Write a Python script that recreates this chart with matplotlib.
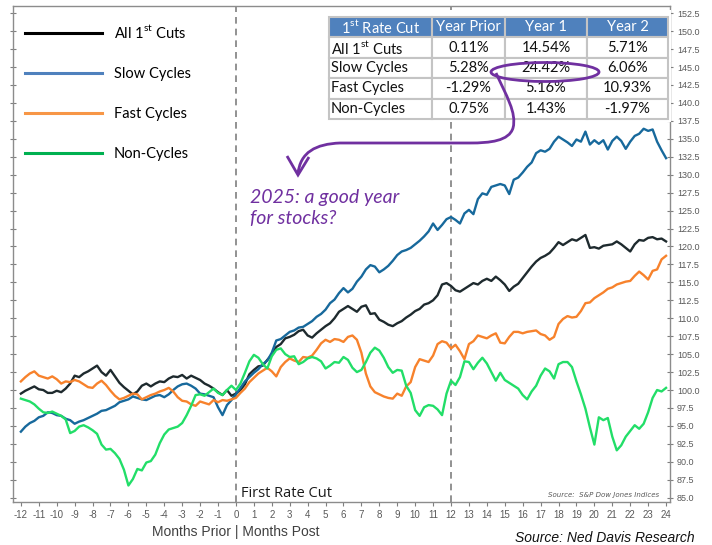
import numpy as np
import matplotlib
matplotlib.use("Agg")
import matplotlib.pyplot as plt
from matplotlib.lines import Line2D
from matplotlib.patches import Ellipse, PathPatch, Rectangle
from matplotlib.path import Path
from matplotlib.transforms import Affine2D

plt.rcParams['mathtext.fontset'] = 'custom'
plt.rcParams['mathtext.rm'] = 'Lato'

# months relative to the first rate cut, one reading every quarter month
months = np.arange(-12, 24.01, 0.25)

all_cuts = [
    99.5, 99.9, 100.2, 100.5, 100.1, 100.0, 99.6, 99.6, 99.9, 99.7, 100.2, 100.9,
    102.0, 101.8, 102.3, 102.6, 103.0, 103.4, 102.5, 102.0, 102.8, 101.9, 101.0, 100.4,
    99.9, 99.4, 99.8, 100.6, 100.9, 100.5, 100.9, 101.2, 101.1, 101.6, 101.9, 101.8,
    102.1, 101.6, 102.0, 101.7, 101.4, 100.9, 100.6, 100.2, 99.7, 99.3, 100.0, 99.2,
    99.5, 100.0, 100.8, 102.2, 102.8, 103.3, 103.4, 104.2, 104.9, 106.0, 106.4, 107.2,
    107.4, 107.7, 108.2, 108.4, 107.6, 107.3, 107.9, 108.4, 108.9, 109.3, 110.0, 110.9,
    111.3, 111.7, 111.3, 110.9, 111.6, 111.8, 110.6, 110.7, 109.8, 109.5, 109.1, 108.9,
    109.3, 109.6, 110.1, 110.5, 111.0, 111.3, 111.9, 112.1, 112.5, 113.2, 114.7, 114.9,
    114.5, 113.9, 113.7, 114.1, 114.5, 114.9, 114.7, 115.2, 115.5, 115.2, 115.8, 115.3,
    114.7, 113.8, 114.4, 114.8, 115.6, 116.4, 117.2, 117.9, 118.4, 118.7, 119.1, 119.8,
    120.6, 120.2, 120.6, 121.0, 120.8, 121.2, 121.6, 119.8, 119.9, 119.7, 120.1, 120.2,
    120.3, 120.7, 120.3, 119.8, 119.3, 120.3, 120.9, 120.8, 121.2, 121.3, 121.0, 121.1,
    120.7,
]

slow_cycles = [
    94.2, 94.9, 95.4, 95.7, 96.2, 96.4, 96.9, 96.8, 96.5, 96.4, 96.0, 95.8,
    95.3, 95.6, 95.8, 96.1, 96.4, 96.7, 97.1, 97.2, 97.5, 97.8, 98.3, 98.5,
    98.7, 99.1, 98.9, 98.7, 98.6, 98.9, 99.2, 99.3, 99.0, 99.4, 100.0, 100.5,
    100.8, 100.9, 100.6, 100.2, 99.5, 99.4, 99.2, 99.0, 97.6, 96.5, 97.9, 98.6,
    99.4, 100.3, 101.2, 101.8, 102.4, 102.9, 103.6, 104.1, 105.2, 106.9, 107.1, 107.6,
    108.1, 108.3, 108.7, 108.8, 109.2, 109.6, 110.2, 110.6, 111.2, 112.1, 112.6, 113.5,
    114.2, 113.6, 114.1, 115.1, 115.8, 116.8, 117.4, 117.2, 116.4, 116.8, 117.3, 118.0,
    118.8, 119.3, 119.5, 119.8, 120.3, 120.8, 121.4, 122.1, 123.2, 122.3, 123.0, 123.8,
    124.1, 123.7, 123.2, 124.6, 125.1, 124.5, 126.6, 127.4, 127.2, 128.3, 128.5, 128.7,
    128.5, 127.3, 129.3, 129.6, 130.3, 131.1, 131.7, 133.0, 133.4, 133.2, 133.6, 134.6,
    135.3, 134.9, 134.5, 134.0, 134.9, 134.6, 136.0, 134.2, 134.8, 134.3, 134.8, 133.5,
    134.7, 135.3, 134.7, 133.6, 134.6, 135.4, 135.7, 136.4, 136.1, 136.3, 134.6, 133.4,
    132.3,
]

fast_cycles = [
    101.2, 101.8, 102.3, 102.6, 102.0, 101.8, 101.6, 101.9, 101.5, 100.9, 101.2, 101.1,
    101.4, 101.2, 100.8, 100.4, 100.3, 100.9, 101.3, 100.7, 99.9, 99.2, 98.7, 98.9,
    99.2, 99.5, 99.4, 98.7, 99.0, 99.3, 99.5, 99.8, 100.0, 100.3, 99.8, 99.0,
    98.5, 98.4, 98.0, 97.8, 98.4, 98.2, 98.0, 98.6, 98.3, 98.6, 98.5, 98.7,
    98.9, 99.6, 100.2, 101.1, 101.7, 102.3, 102.7, 103.1, 102.6, 101.9, 103.2, 103.9,
    104.4, 104.1, 103.9, 104.6, 104.5, 104.8, 105.6, 106.5, 107.0, 106.7, 107.1, 107.0,
    106.7, 107.4, 107.6, 107.0, 105.2, 102.3, 100.5, 99.7, 99.4, 99.1, 98.9, 98.8,
    99.5, 99.2, 100.5, 101.1, 103.2, 104.3, 104.1, 103.9, 104.8, 106.4, 106.8, 106.6,
    105.8, 106.3, 105.4, 104.3, 106.4, 106.8, 107.6, 107.4, 107.2, 107.6, 107.9, 106.6,
    106.5, 107.4, 108.1, 108.1, 107.9, 108.1, 108.2, 108.3, 107.8, 107.6, 107.0, 107.4,
    109.2, 109.9, 110.3, 110.1, 110.2, 111.0, 112.1, 112.2, 112.8, 113.2, 113.6, 114.1,
    114.3, 114.7, 114.9, 115.1, 115.2, 115.9, 116.5, 116.0, 115.4, 116.6, 116.8, 118.2,
    118.7,
]

non_cycles = [
    98.8, 98.6, 98.4, 98.0, 97.4, 96.9, 96.8, 97.0, 96.7, 96.4, 95.9, 94.0,
    94.3, 94.9, 95.1, 94.8, 94.4, 93.9, 92.4, 91.7, 91.8, 91.2, 90.4, 88.9,
    86.7, 87.6, 89.0, 88.8, 89.9, 90.1, 91.0, 92.6, 93.8, 94.5, 94.7, 94.9,
    95.4, 96.5, 97.8, 99.3, 99.4, 99.2, 99.7, 100.2, 99.6, 99.3, 100.0, 100.6,
    100.0, 100.9, 102.4, 104.0, 104.9, 104.5, 103.6, 103.0, 104.7, 105.6, 105.8, 105.0,
    104.6, 104.7, 103.6, 103.9, 104.4, 104.6, 104.4, 104.0, 103.0, 103.4, 103.9, 103.8,
    104.6, 104.2, 103.1, 102.5, 102.8, 103.9, 105.2, 105.9, 105.5, 104.5, 103.2, 102.4,
    102.8, 102.7, 100.6, 99.6, 97.2, 96.4, 97.6, 97.9, 97.8, 97.3, 96.5, 99.5,
    101.3, 100.7, 101.8, 104.0, 103.9, 102.9, 103.8, 104.5, 103.7, 102.5, 101.3, 102.4,
    101.4, 101.0, 100.6, 100.2, 99.3, 98.7, 99.8, 100.6, 102.0, 103.0, 102.6, 101.6,
    103.6, 103.9, 103.9, 103.2, 101.2, 99.4, 97.4, 94.8, 92.4, 96.2, 95.8, 96.1,
    93.5, 91.6, 92.3, 93.5, 94.3, 95.1, 94.6, 95.3, 96.9, 98.9, 100.0, 99.8,
    100.3,
]

series_labels = ["All 1$^{\\rm st}$ Cuts", "Slow Cycles", "Fast Cycles", "Non-Cycles"]
line_colors = ["#1e2a2e", "#17699c", "#f7822c", "#22de68"]
legend_colors = ["#000000", "#4f81bd", "#f79646", "#00b050"]

table_header = ["1$^{\\rm st}$ Rate Cut", "Year Prior", "Year 1", "Year 2"]
year_prior = [0.11, 5.28, -1.29, 0.75]
year_one = [14.54, 24.42, 5.16, 1.43]
year_two = [5.71, 6.06, 10.93, -1.97]

x_ticks = list(range(-12, 25))
y_ticks = np.arange(85, 152.6, 2.5)

W, H = 712, 545
fig = plt.figure(figsize=(W / 100, H / 100), dpi=100)
ax = fig.add_axes([13 / W, 1 - 502 / H, 657 / W, 496 / H])

# pixel coords (from top-left) of the figure, for the hand drawn bits
px = Affine2D().scale(1 / W, -1 / H).translate(0, 1) + fig.transFigure

for vals, col in zip([all_cuts, slow_cycles, fast_cycles, non_cycles], line_colors):
    ax.plot(months, vals, color=col, lw=1.7, zorder=3)

for xv in (0, 12):
    ax.axvline(xv, color="#7f7f7f", ls=(0, (4, 3)), lw=1.2, zorder=1)

ax.set_xlim(-12.44, 24.22)
ax.set_ylim(84.4, 153.5)
ax.set_xticks(x_ticks)
ax.set_xticklabels([str(t) for t in x_ticks])
ax.set_yticks(y_ticks)
ax.set_yticklabels(["%.1f" % t for t in y_ticks])
ax.tick_params(axis="y", left=True, right=True, labelleft=False, labelright=True,
               direction="inout", length=4, width=0.8, color="#7f7f7f",
               labelsize=6.5, labelcolor="#595959", pad=3)
ax.tick_params(axis="x", direction="out", length=3, width=0.8, color="#7f7f7f",
               labelsize=7, labelcolor="#595959", pad=3)
for lab in ax.get_xticklabels() + ax.get_yticklabels():
    lab.set_family(["Liberation Sans Narrow", "Liberation Sans"])
for sp in ax.spines.values():
    sp.set_color("#8c8c8c")
    sp.set_linewidth(1.0)

# legend
handles = [Line2D([], [], color=c, lw=2.2) for c in legend_colors]
leg = ax.legend(handles, series_labels, loc="upper left",
                bbox_to_anchor=(12 / W, 1 - 10 / H), bbox_transform=fig.transFigure,
                frameon=False, handlelength=5.3, handletextpad=0.8,
                labelspacing=1.78, prop={"family": "Lato", "size": 10.5})

ax.text(0.3, 85.65, "First Rate Cut", fontsize=10.5, family="Open Sans",
        color="#1a1a1a", va="center", ha="left", zorder=4)
ax.text(23.6, 85.4, "Source:  S&P Dow Jones Indices", fontsize=5, style="italic",
        color="#595959", ha="right", va="center")

fig.text(236 / W, 1 - 532 / H, "Months Prior | Months Post", ha="center", va="center",
         fontsize=10, color="#404040", family=["Liberation Sans Narrow", "Liberation Sans"])
fig.text(695 / W, 1 - 538 / H, "Source: Ned Davis Research", ha="right", va="center",
         fontsize=10, style="italic", color="#111111", family="Liberation Sans")

# summary table
fig.add_artist(Rectangle((325, 10), 346, 112, transform=px, fc="white", ec="none", zorder=1))
tax = fig.add_axes([329 / W, 1 - 119 / H, 339 / W, 102 / H], zorder=2)
tax.axis("off")
cells = [[lab, "%.2f%%" % a, "%.2f%%" % b, "%.2f%%" % c]
         for lab, a, b, c in zip(series_labels, year_prior, year_one, year_two)]
tbl = tax.table(cellText=cells, colLabels=table_header, bbox=[0, 0, 1, 1],
                colWidths=[103, 73, 82, 81])
tbl.auto_set_font_size(False)
for (r, c), cell in tbl.get_celld().items():
    cell.set_edgecolor("#c4c4c4")
    cell.set_linewidth(1.5)
    txt = cell.get_text()
    txt.set_fontsize(10.5)
    txt.set_family("Lato")
    if r == 0:
        cell.set_facecolor("#4f81bd")
        txt.set_color("white")
        txt.set_ha("center")
    else:
        txt.set_color("#111111")
        if c == 0:
            txt.set_ha("left")
            cell.PAD = 0.02
        else:
            txt.set_ha("center")

# purple call-out
purple = "#7030a0"
fig.add_artist(Ellipse((545, 72), 108, 19, transform=px, fill=False, ec=purple, lw=2, zorder=5))
verts = [(496, 73), (506, 95), (517, 113), (513, 128), (509, 141), (490, 143), (470, 143),
         (340, 143), (316, 144), (300, 152), (298, 174)]
codes = [Path.MOVETO] + [Path.CURVE4] * 6 + [Path.LINETO] + [Path.CURVE4] * 3
fig.add_artist(PathPatch(Path(verts, codes), transform=px, fill=False, ec=purple, lw=2, zorder=5))
fig.add_artist(PathPatch(Path([(287, 156), (298, 175), (309, 157)]), transform=px,
                         fill=False, ec=purple, lw=2, zorder=5))
fig.text(250 / W, 1 - 208 / H, "2025: a good year\nfor stocks?", color=purple,
         fontsize=14, style="italic", family="Lato", ha="left", va="center",
         linespacing=1.35)

fig.savefig("out.png", dpi=100)
